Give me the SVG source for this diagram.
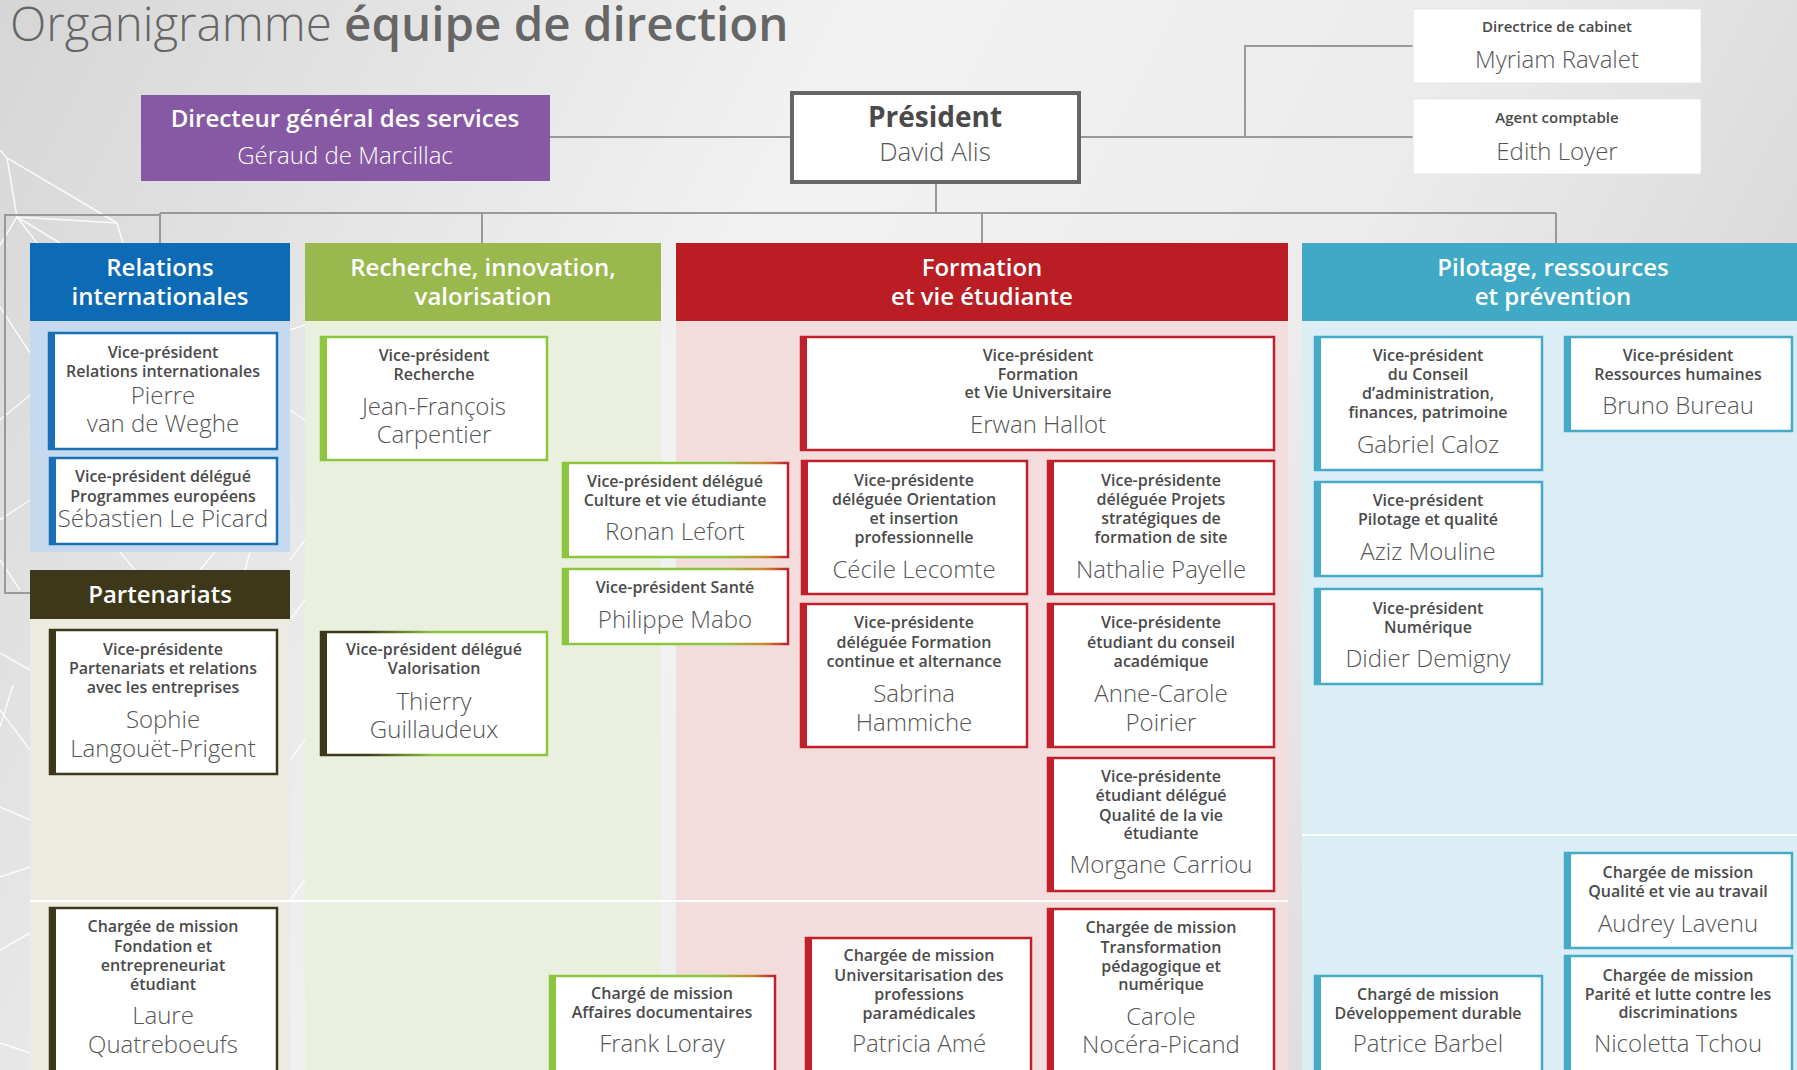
<svg xmlns="http://www.w3.org/2000/svg" width="1797" height="1070" viewBox="0 0 1797 1070">
<defs>
<linearGradient id="bg" x1="0" y1="0" x2="1" y2="0.3">
<stop offset="0" stop-color="#d6d6d6"/>
<stop offset="0.45" stop-color="#f2f2f2"/>
<stop offset="0.75" stop-color="#ececec"/>
<stop offset="1" stop-color="#d9d9d9"/>
</linearGradient>
<linearGradient id="gr" x1="0" y1="0" x2="1" y2="0">
<stop offset="0" stop-color="#8cc63e"/>
<stop offset="0.72" stop-color="#8cc63e"/>
<stop offset="0.9" stop-color="#c8872c"/>
<stop offset="1" stop-color="#be1e2d"/>
</linearGradient>
<linearGradient id="og" x1="0" y1="0" x2="1" y2="0">
<stop offset="0" stop-color="#3d3819"/>
<stop offset="0.2" stop-color="#3d3819"/>
<stop offset="0.5" stop-color="#8cc63e"/>
<stop offset="1" stop-color="#8cc63e"/>
</linearGradient>
<style>
.t{font-family:"Open Sans","Noto Sans","DejaVu Sans",sans-serif;font-weight:600;font-size:16px;fill:#4a4a4a;text-anchor:middle}
.n{font-family:"Open Sans","Noto Sans","DejaVu Sans",sans-serif;font-weight:300;font-size:24px;fill:#555;text-anchor:middle}
.h{font-family:"Open Sans","Noto Sans","DejaVu Sans",sans-serif;font-weight:600;font-size:24px;fill:#fff;text-anchor:middle}
.c{fill:#fff;stroke-width:2.5}
.blue{stroke:#1b6fb7}.bl{fill:#1b6fb7}
.olv{stroke:#3d3819}.ol{fill:#3d3819}
.grn{stroke:#8cc63e}.gl{fill:#8cc63e}
.red{stroke:#c0202a}.rl{fill:#c0202a}
.tea{stroke:#44aac8}.tl{fill:#44aac8}
.con{fill:none;stroke:#999;stroke-width:2}
.deco{fill:none;stroke:#fff;stroke-width:1.5;opacity:0.85}
.div{stroke:#fff;stroke-width:2}
</style>
</defs>
<rect x="0" y="0" width="1797" height="1070" fill="url(#bg)"/>
<g id="decoration">
<path class="deco" d="M0,150 L7,158 L117,223 M7,158 L17,217 L117,223 L123,243 M17,217 L40,247 M17,217 L0,245 M17,217 L60,243"/>
<path class="deco" d="M0,307 L30,353 M0,420 L30,395 M0,520 L30,500 M0,560 L20,590"/>
<path class="deco" d="M0,653 L30,670 M13,685 L0,727 M0,710 L30,750 M0,807 L30,820 M0,877 L30,867 M0,950 L30,933 M0,1043 L30,1053"/>
<path class="deco" d="M290,330 L305,325 M290,410 L305,420 M290,560 L305,540 M290,620 L305,600 M290,760 L305,740 M290,900 L305,880"/>
<path class="deco" d="M120,552 L135,570 M200,570 L215,552 M250,552 L245,570"/>
</g>
<g id="title">
<text x="10" y="41" style="font-family:'Open Sans','Noto Sans',sans-serif;font-size:47.5px;fill:#666"><tspan font-weight="300">Organigramme </tspan><tspan font-weight="600">équipe de direction</tspan></text>
</g>
<g id="columns">
<rect x="30" y="243" width="260" height="78" fill="#0d6ab5"/>
<rect x="30" y="321" width="260" height="231" fill="#c5daef"/>
<rect x="305" y="243" width="356" height="78" fill="#99b94f"/>
<rect x="305" y="321" width="356" height="749" fill="#e9f1de"/>
<rect x="676" y="243" width="612" height="78" fill="#ba1d24"/>
<rect x="676" y="321" width="612" height="749" fill="#f3dcdc"/>
<rect x="1302" y="243" width="495" height="78" fill="#3fa9c6"/>
<rect x="1302" y="321" width="495" height="749" fill="#dbeef5"/>
<rect x="30" y="570" width="260" height="49" fill="#3d3819"/>
<rect x="30" y="619" width="260" height="451" fill="#edebe1"/>
<line class="div" x1="30" y1="901" x2="1288" y2="901"/>
<line class="div" x1="1302" y1="835" x2="1797" y2="835"/>
<text class="h" x="160" y="276">Relations</text>
<text class="h" x="160" y="305">internationales</text>
<text class="h" x="483" y="276">Recherche, innovation,</text>
<text class="h" x="483" y="305">valorisation</text>
<text class="h" x="982" y="276">Formation</text>
<text class="h" x="982" y="305">et vie étudiante</text>
<text class="h" x="1553" y="276">Pilotage, ressources</text>
<text class="h" x="1553" y="305">et prévention</text>
<text class="h" x="160" y="603">Partenariats</text>
</g>
<g id="connectors">
<path class="con" d="M550,137 H791"/>
<path class="con" d="M1080,137 H1413 M1245,137 V46 H1413"/>
<path class="con" d="M936,184 V213 M160,213 H1556 M160,213 V243 M482,213 V243 M982,213 V243 M1556,213 V243"/>
<path class="con" d="M160,215 H5 V593 H30"/>
</g>
<g id="dgs">
<rect x="141" y="95" width="409" height="86" fill="#8759a4"/>
<text class="h" x="345" y="127">Directeur général des services</text>
<text class="n" x="345" y="164" style="fill:#fff">Géraud de Marcillac</text>
</g>
<g id="president">
<rect x="792" y="93" width="287" height="89" fill="#fff" stroke="#666" stroke-width="4"/>
<text x="935" y="127" style="font-family:'Open Sans','Noto Sans',sans-serif;font-weight:700;font-size:28px;fill:#4a4a4a;text-anchor:middle">Président</text>
<text class="n" x="935" y="161" style="font-size:26px">David Alis</text>
</g>
<g id="cabinet">
<rect x="1413" y="9" width="288" height="74" fill="#fff" stroke="#e6e6e6" stroke-width="1"/>
<text class="t" x="1557" y="32" style="font-size:15px">Directrice de cabinet</text>
<text class="n" x="1557" y="68">Myriam Ravalet</text>
</g>
<g id="comptable">
<rect x="1413" y="99" width="288" height="75" fill="#fff" stroke="#e6e6e6" stroke-width="1"/>
<text class="t" x="1557" y="123" style="font-size:15px">Agent comptable</text>
<text class="n" x="1557" y="160">Edith Loyer</text>
</g>
<g id="vanweghe">
<rect class="c blue" x="49" y="333" width="228" height="116"/><rect class="bl" x="48" y="332" width="7" height="118"/>
<text class="t" x="163" y="358">Vice-président</text>
<text class="t" x="163" y="377">Relations internationales</text>
<text class="n" x="163" y="404">Pierre</text>
<text class="n" x="163" y="432">van de Weghe</text>
</g>
<g id="lepicard">
<rect class="c blue" x="50" y="458" width="227" height="86"/><rect class="bl" x="49" y="457" width="7" height="88"/>
<text class="t" x="163" y="482">Vice-président délégué</text>
<text class="t" x="163" y="502">Programmes européens</text>
<text class="n" x="163" y="527">Sébastien Le Picard</text>
</g>
<g id="langouet">
<rect class="c olv" x="50" y="630" width="227" height="144"/><rect class="ol" x="49" y="629" width="7" height="146"/>
<text class="t" x="163" y="655">Vice-présidente</text>
<text class="t" x="163" y="674">Partenariats et relations</text>
<text class="t" x="163" y="693">avec les entreprises</text>
<text class="n" x="163" y="728">Sophie</text>
<text class="n" x="163" y="757">Langouët-Prigent</text>
</g>
<g id="quatreboeufs">
<rect class="c olv" x="50" y="908" width="227" height="180"/><rect class="ol" x="49" y="907" width="7" height="182"/>
<text class="t" x="163" y="932">Chargée de mission</text>
<text class="t" x="163" y="952">Fondation et</text>
<text class="t" x="163" y="971">entrepreneuriat</text>
<text class="t" x="163" y="990">étudiant</text>
<text class="n" x="163" y="1024">Laure</text>
<text class="n" x="163" y="1053">Quatreboeufs</text>
</g>
<g id="carpentier">
<rect class="c grn" x="321" y="337" width="226" height="123"/><rect class="gl" x="320" y="336" width="7" height="125"/>
<text class="t" x="434" y="361">Vice-président</text>
<text class="t" x="434" y="380">Recherche</text>
<text class="n" x="434" y="415">Jean-François</text>
<text class="n" x="434" y="443">Carpentier</text>
</g>
<g id="lefort">
<rect class="c" stroke="url(#gr)" x="563" y="463" width="225" height="94"/><rect class="gl" x="562" y="462" width="7" height="96"/>
<text class="t" x="675" y="487">Vice-président délégué</text>
<text class="t" x="675" y="506">Culture et vie étudiante</text>
<text class="n" x="675" y="540">Ronan Lefort</text>
</g>
<g id="mabo">
<rect class="c" stroke="url(#gr)" x="563" y="569" width="225" height="75"/><rect class="gl" x="562" y="568" width="7" height="77"/>
<text class="t" x="675" y="593">Vice-président Santé</text>
<text class="n" x="675" y="628">Philippe Mabo</text>
</g>
<g id="guillaudeux">
<rect class="c" stroke="url(#og)" x="321" y="632" width="226" height="123"/><rect class="ol" x="320" y="631" width="7" height="125"/>
<text class="t" x="434" y="655">Vice-président délégué</text>
<text class="t" x="434" y="674">Valorisation</text>
<text class="n" x="434" y="710">Thierry</text>
<text class="n" x="434" y="738">Guillaudeux</text>
</g>
<g id="loray">
<rect class="c" stroke="url(#gr)" x="550" y="976" width="225" height="120"/><rect class="gl" x="549" y="975" width="7" height="122"/>
<text class="t" x="662" y="999">Chargé de mission</text>
<text class="t" x="662" y="1018">Affaires documentaires</text>
<text class="n" x="662" y="1052">Frank Loray</text>
</g>
<g id="hallot">
<rect class="c red" x="801" y="337" width="473" height="113"/><rect class="rl" x="800" y="336" width="7" height="115"/>
<text class="t" x="1038" y="361">Vice-président</text>
<text class="t" x="1038" y="380">Formation</text>
<text class="t" x="1038" y="398">et Vie Universitaire</text>
<text class="n" x="1038" y="433">Erwan Hallot</text>
</g>
<g id="lecomte">
<rect class="c red" x="802" y="461" width="225" height="133"/><rect class="rl" x="801" y="460" width="7" height="135"/>
<text class="t" x="914" y="486">Vice-présidente</text>
<text class="t" x="914" y="505">déléguée Orientation</text>
<text class="t" x="914" y="524">et insertion</text>
<text class="t" x="914" y="543">professionnelle</text>
<text class="n" x="914" y="578">Cécile Lecomte</text>
</g>
<g id="payelle">
<rect class="c red" x="1048" y="461" width="226" height="133"/><rect class="rl" x="1047" y="460" width="7" height="135"/>
<text class="t" x="1161" y="486">Vice-présidente</text>
<text class="t" x="1161" y="505">déléguée Projets</text>
<text class="t" x="1161" y="524">stratégiques de</text>
<text class="t" x="1161" y="543">formation de site</text>
<text class="n" x="1161" y="578">Nathalie Payelle</text>
</g>
<g id="hammiche">
<rect class="c red" x="801" y="604" width="226" height="143"/><rect class="rl" x="800" y="603" width="7" height="145"/>
<text class="t" x="914" y="628">Vice-présidente</text>
<text class="t" x="914" y="648">déléguée Formation</text>
<text class="t" x="914" y="667">continue et alternance</text>
<text class="n" x="914" y="702">Sabrina</text>
<text class="n" x="914" y="731">Hammiche</text>
</g>
<g id="poirier">
<rect class="c red" x="1048" y="604" width="226" height="143"/><rect class="rl" x="1047" y="603" width="7" height="145"/>
<text class="t" x="1161" y="628">Vice-présidente</text>
<text class="t" x="1161" y="648">étudiant du conseil</text>
<text class="t" x="1161" y="667">académique</text>
<text class="n" x="1161" y="702">Anne-Carole</text>
<text class="n" x="1161" y="731">Poirier</text>
</g>
<g id="carriou">
<rect class="c red" x="1048" y="758" width="226" height="133"/><rect class="rl" x="1047" y="757" width="7" height="135"/>
<text class="t" x="1161" y="782">Vice-présidente</text>
<text class="t" x="1161" y="801">étudiant délégué</text>
<text class="t" x="1161" y="821">Qualité de la vie</text>
<text class="t" x="1161" y="839">étudiante</text>
<text class="n" x="1161" y="873">Morgane Carriou</text>
</g>
<g id="ame">
<rect class="c red" x="806" y="938" width="225" height="150"/><rect class="rl" x="805" y="937" width="7" height="152"/>
<text class="t" x="919" y="961">Chargée de mission</text>
<text class="t" x="919" y="981">Universitarisation des</text>
<text class="t" x="919" y="1000">professions</text>
<text class="t" x="919" y="1019">paramédicales</text>
<text class="n" x="919" y="1052">Patricia Amé</text>
</g>
<g id="nocera">
<rect class="c red" x="1048" y="909" width="226" height="180"/><rect class="rl" x="1047" y="908" width="7" height="182"/>
<text class="t" x="1161" y="933">Chargée de mission</text>
<text class="t" x="1161" y="953">Transformation</text>
<text class="t" x="1161" y="972">pédagogique et</text>
<text class="t" x="1161" y="990">numérique</text>
<text class="n" x="1161" y="1025">Carole</text>
<text class="n" x="1161" y="1053">Nocéra-Picand</text>
</g>
<g id="caloz">
<rect class="c tea" x="1315" y="337" width="227" height="133"/><rect class="tl" x="1314" y="336" width="7" height="135"/>
<text class="t" x="1428" y="361">Vice-président</text>
<text class="t" x="1428" y="380">du Conseil</text>
<text class="t" x="1428" y="399">d’administration,</text>
<text class="t" x="1428" y="418">finances, patrimoine</text>
<text class="n" x="1428" y="453">Gabriel Caloz</text>
</g>
<g id="bureau">
<rect class="c tea" x="1565" y="337" width="227" height="94"/><rect class="tl" x="1564" y="336" width="7" height="96"/>
<text class="t" x="1678" y="361">Vice-président</text>
<text class="t" x="1678" y="380">Ressources humaines</text>
<text class="n" x="1678" y="414">Bruno Bureau</text>
</g>
<g id="mouline">
<rect class="c tea" x="1315" y="482" width="227" height="94"/><rect class="tl" x="1314" y="481" width="7" height="96"/>
<text class="t" x="1428" y="506">Vice-président</text>
<text class="t" x="1428" y="525">Pilotage et qualité</text>
<text class="n" x="1428" y="560">Aziz Mouline</text>
</g>
<g id="demigny">
<rect class="c tea" x="1315" y="589" width="227" height="95"/><rect class="tl" x="1314" y="588" width="7" height="97"/>
<text class="t" x="1428" y="614">Vice-président</text>
<text class="t" x="1428" y="633">Numérique</text>
<text class="n" x="1428" y="667">Didier Demigny</text>
</g>
<g id="lavenu">
<rect class="c tea" x="1565" y="853" width="227" height="95"/><rect class="tl" x="1564" y="852" width="7" height="97"/>
<text class="t" x="1678" y="878">Chargée de mission</text>
<text class="t" x="1678" y="897">Qualité et vie au travail</text>
<text class="n" x="1678" y="932">Audrey Lavenu</text>
</g>
<g id="tchou">
<rect class="c tea" x="1565" y="956" width="227" height="130"/><rect class="tl" x="1564" y="955" width="7" height="132"/>
<text class="t" x="1678" y="981">Chargée de mission</text>
<text class="t" x="1678" y="1000">Parité et lutte contre les</text>
<text class="t" x="1678" y="1018">discriminations</text>
<text class="n" x="1678" y="1052">Nicoletta Tchou</text>
</g>
<g id="barbel">
<rect class="c tea" x="1315" y="976" width="227" height="110"/><rect class="tl" x="1314" y="975" width="7" height="112"/>
<text class="t" x="1428" y="1000">Chargé de mission</text>
<text class="t" x="1428" y="1019">Développement durable</text>
<text class="n" x="1428" y="1052">Patrice Barbel</text>
</g>
</svg>
